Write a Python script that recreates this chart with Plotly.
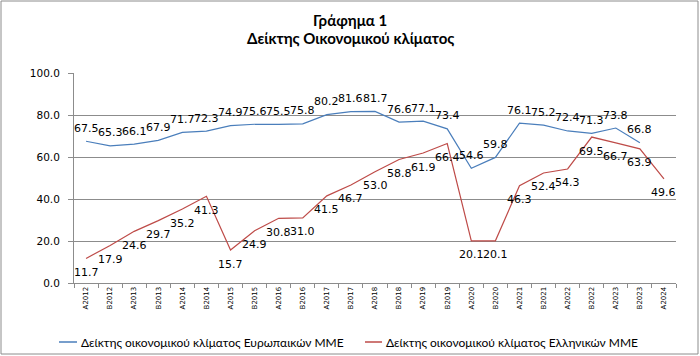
import plotly.graph_objects as go

categories = ["A2012", "B2012", "A2013", "B2013", "A2014", "B2014", "A2015", "B2015",
              "A2016", "B2016", "A2017", "B2017", "A2018", "B2018", "A2019", "B2019",
              "A2020", "B2020", "A2021", "B2021", "A2022", "B2022", "A2023", "B2023", "A2024"]
europe = [67.5, 65.3, 66.1, 67.9, 71.7, 72.3, 74.9, 75.6, 75.5, 75.8, 80.2, 81.6, 81.7,
          76.6, 77.1, 73.4, 54.6, 59.8, 76.1, 75.2, 72.4, 71.3, 73.8, 66.8, None]
greece = [11.7, 17.9, 24.6, 29.7, 35.2, 41.3, 15.7, 24.9, 30.8, 31.0, 41.5, 46.7, 53.0,
          58.8, 61.9, 66.4, 20.1, 20.1, 46.3, 52.4, 54.3, 69.5, 66.7, 63.9, 49.6]
name_eu = "Δείκτης οικονομικού κλίματος Ευρωπαικών ΜΜΕ"
name_gr = "Δείκτης οικονομικού κλίματος Ελληνικών ΜΜΕ"
title_lines = ["Γράφημα 1", "Δείκτης Οικονομικού κλίματος"]

W, H = 700, 356
L, R, T, B = 74, 24, 73, 73
pw, ph = W - L - R, H - T - B

def px_x(x):
    return (x - L) / pw

def px_y(y):
    return (H - B - y) / ph

blue = "#4a7ebb"
red = "#be4b48"
grid = "#8c8c8c"

fig = go.Figure()
fig.add_trace(go.Scatter(x=categories, y=europe, name=name_eu, mode="lines",
                         line=dict(color=blue, width=1.2), hoverinfo="skip"))
fig.add_trace(go.Scatter(x=categories, y=greece, name=name_gr, mode="lines",
                         line=dict(color=red, width=1.2), hoverinfo="skip"))

annotations = []
lab_font = dict(family="DejaVu Sans", size=11, color="#000000")
for c, v in zip(categories, europe):
    if v is not None:
        annotations.append(dict(x=c, y=v, xref="x", yref="y", text=f"{v:.1f}",
                                showarrow=False, yshift=13, font=lab_font,
                                xanchor="center", yanchor="middle"))
for c, v in zip(categories, greece):
    if v is not None:
        annotations.append(dict(x=c, y=v, xref="x", yref="y", text=f"{v:.1f}",
                                showarrow=False, yshift=-14, font=lab_font,
                                xanchor="center", yanchor="middle"))

annotations += [
    dict(text="<b>" + title_lines[0] + "</b>", xref="paper", yref="paper",
         x=px_x(350), y=px_y(20), xanchor="center", yanchor="middle", showarrow=False,
         font=dict(family="Lato", size=15, color="#000000")),
    dict(text="<b>" + title_lines[1] + "</b>", xref="paper", yref="paper",
         x=px_x(350), y=px_y(38.5), xanchor="center", yanchor="middle", showarrow=False,
         font=dict(family="Lato", size=15, color="#000000")),
    dict(text=name_eu, xref="paper", yref="paper", x=px_x(79), y=px_y(342),
         xanchor="left", yanchor="middle", showarrow=False,
         font=dict(family="Lato", size=12, color="#000000")),
    dict(text=name_gr, xref="paper", yref="paper", x=px_x(384), y=px_y(342),
         xanchor="left", yanchor="middle", showarrow=False,
         font=dict(family="Lato", size=12, color="#000000")),
]

shapes = [
    dict(type="rect", xref="paper", yref="paper",
         x0=px_x(1), x1=px_x(698), y0=px_y(354), y1=px_y(1),
         line=dict(color="#8c8c8c", width=1), layer="below"),
    dict(type="line", xref="paper", yref="paper", x0=px_x(59), x1=px_x(77),
         y0=px_y(342), y1=px_y(342), line=dict(color=blue, width=1.5)),
    dict(type="line", xref="paper", yref="paper", x0=px_x(365), x1=px_x(382),
         y0=px_y(342), y1=px_y(342), line=dict(color=red, width=1.5)),
]

fig.update_layout(
    width=W, height=H,
    margin=dict(l=L, r=R, t=T, b=B),
    paper_bgcolor="white", plot_bgcolor="white",
    showlegend=False,
    xaxis=dict(type="category", range=[-0.5, len(categories) - 0.5], tickangle=-90,
               tickfont=dict(family="DejaVu Sans", size=7, color="#000000"),
               showline=True, linecolor=grid, linewidth=1,
               ticks="outside", tickson="boundaries", ticklen=4, tickcolor=grid,
               showgrid=False, zeroline=False),
    yaxis=dict(range=[0, 100], dtick=20, tickformat=".1f",
               tickfont=dict(family="DejaVu Sans", size=10.5, color="#000000"),
               showline=True, linecolor=grid, linewidth=1,
               ticks="outside", ticklen=5, tickcolor=grid, ticklabelstandoff=6,
               showgrid=True, gridcolor=grid, gridwidth=1, zeroline=False),
    annotations=annotations,
    shapes=shapes,
)

fig.write_html("out.html", config={"displayModeBar": False},
               post_script="document.body.style.margin='0';")
